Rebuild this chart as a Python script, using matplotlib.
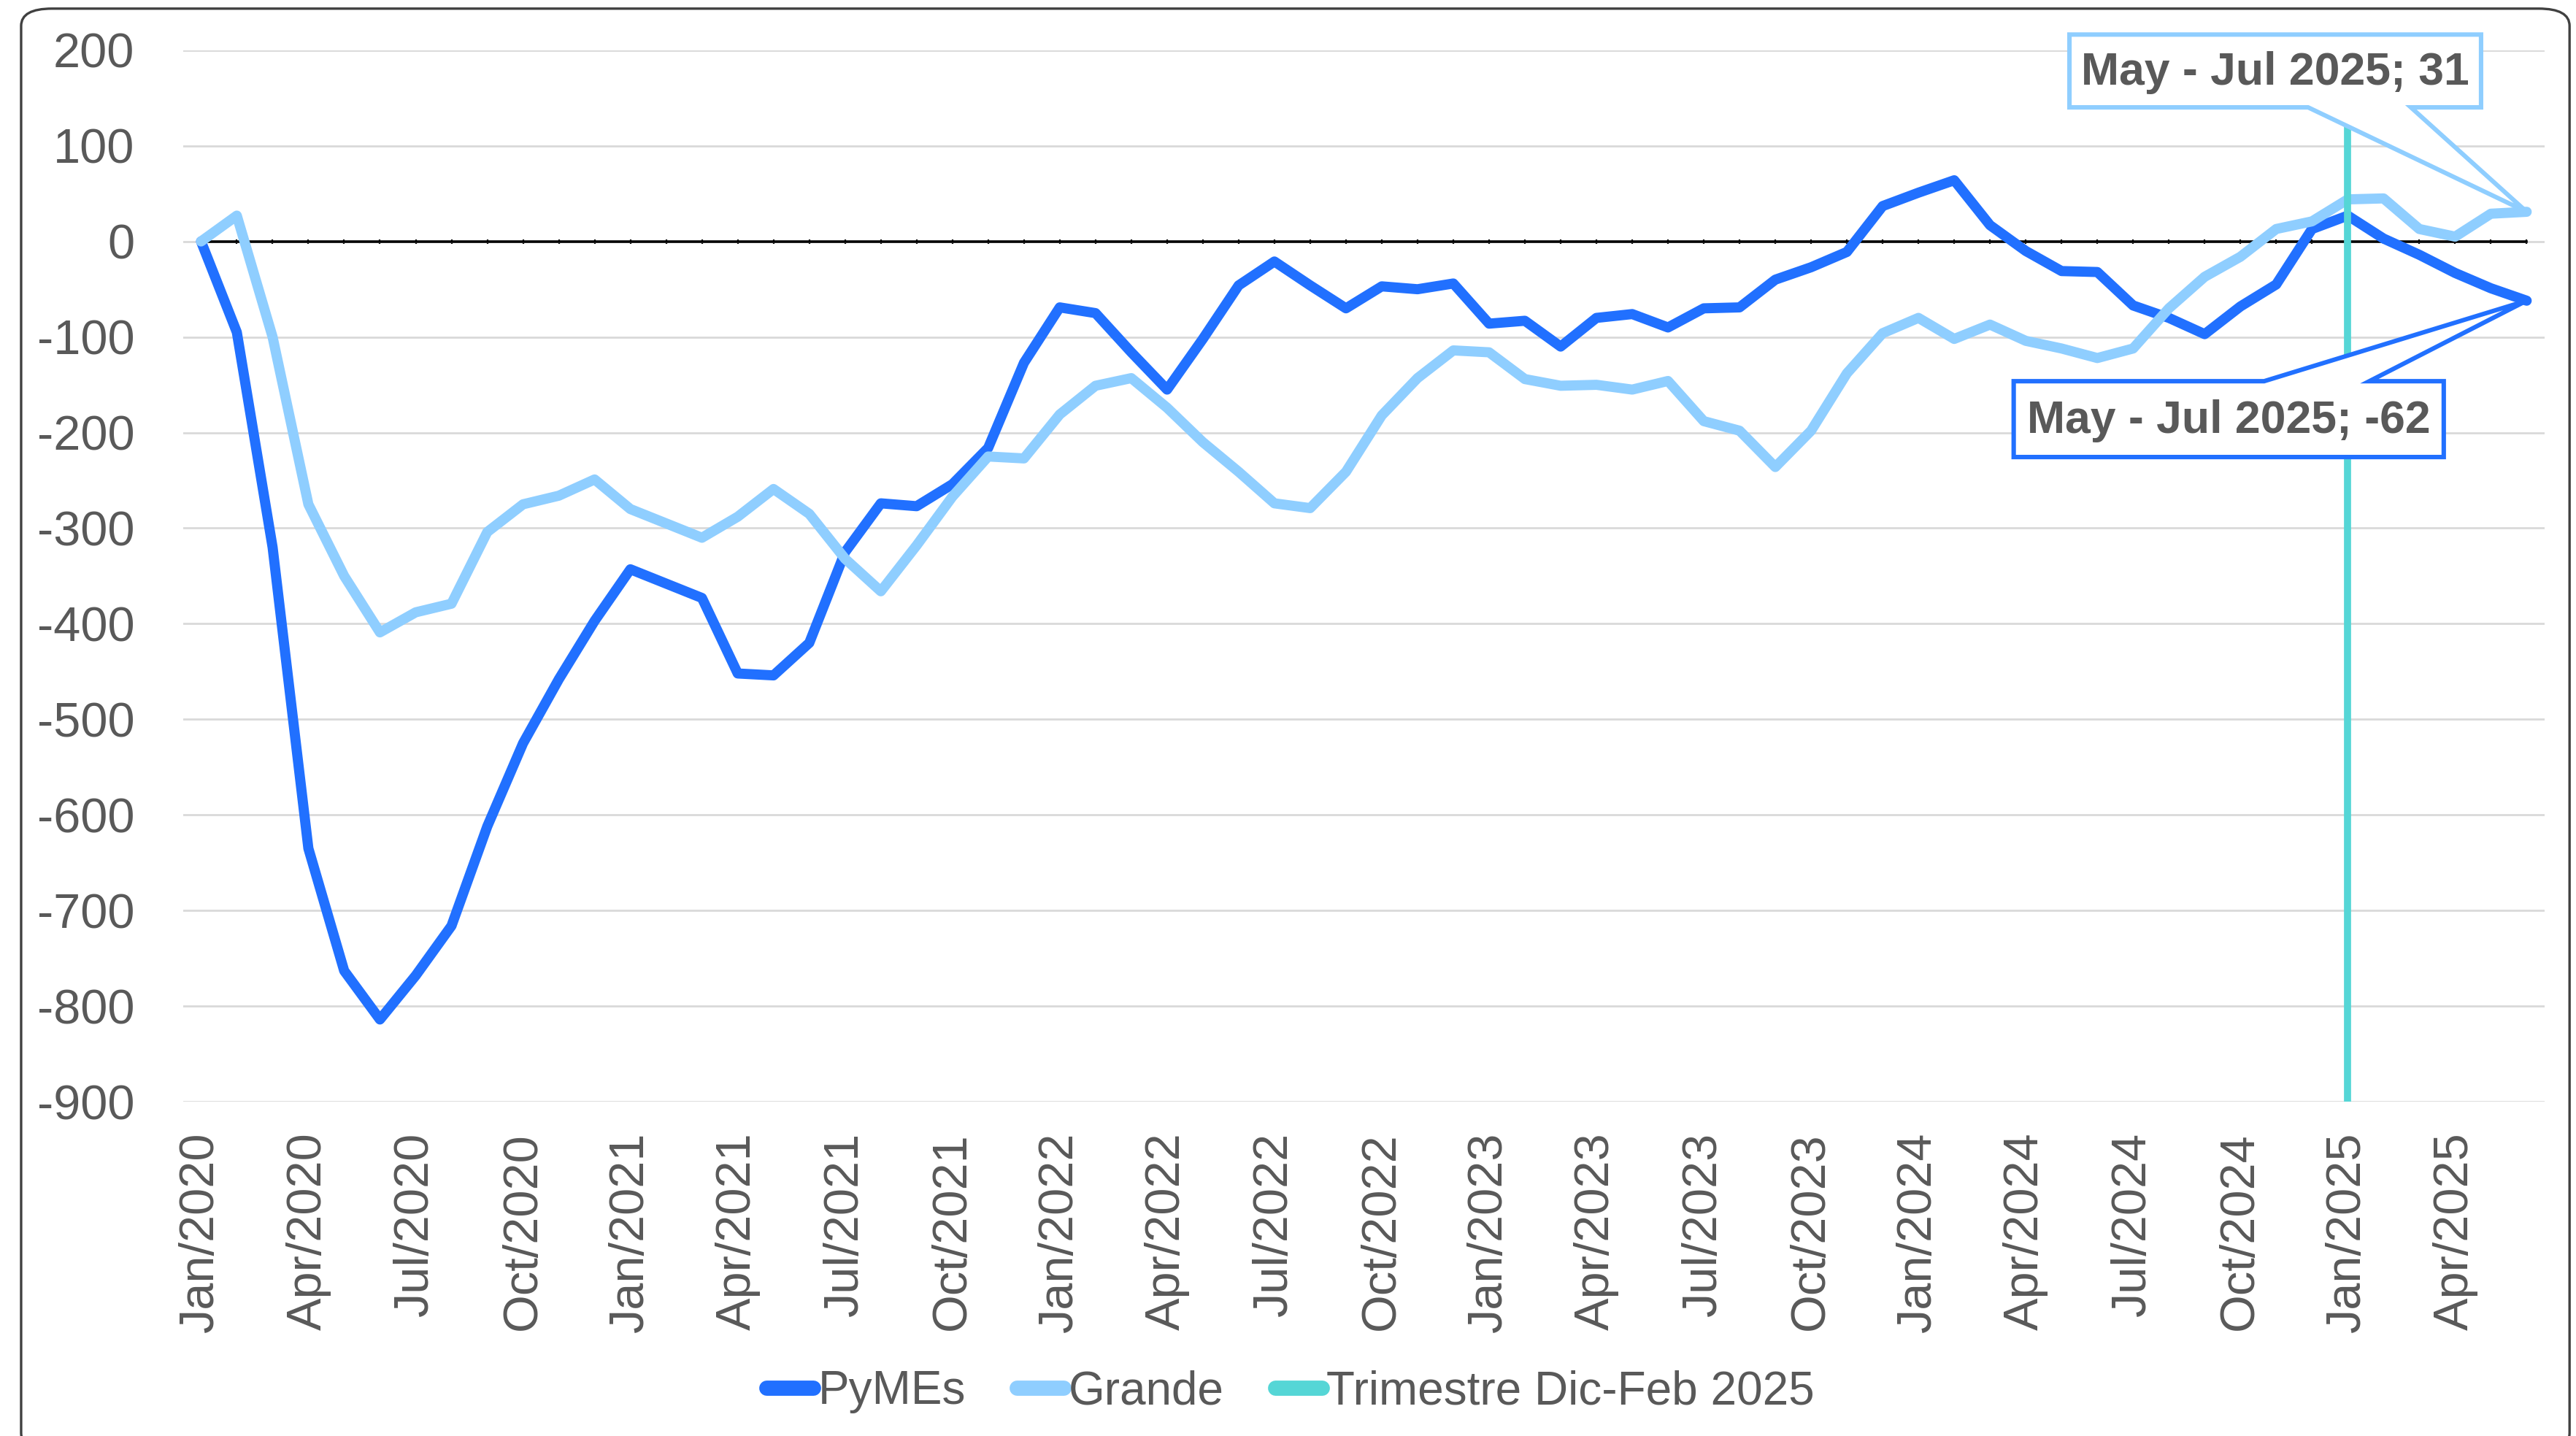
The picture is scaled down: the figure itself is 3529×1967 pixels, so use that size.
import numpy as np
import matplotlib.pyplot as plt
import matplotlib.transforms as mtransforms
from matplotlib.patches import FancyBboxPatch, Polygon
from matplotlib.ticker import MultipleLocator

# monthly values, Jan 2020 .. Jun 2025 (centre month of each rolling trimester)
pymes = [0, -95, -320, -635, -763, -814, -768, -716, -612, -525, -458, -397,
         -343, -358, -373, -452, -454, -420, -325, -274, -277, -254, -216, -127,
         -69, -75, -116, -155, -102, -46, -21, -46, -70, -47, -50, -44,
         -86, -83, -110, -80, -76, -90, -70, -69, -40, -27, -11, 37,
         51, 64, 17, -10, -31, -32, -67, -80, -97, -68, -45, 13,
         27, 3, -14, -33, -49, -62]
grande = [0, 27, -100, -275, -350, -409, -388, -379, -304, -275, -266, -249,
          -280, -295, -310, -288, -259, -285, -332, -366, -318, -267, -225, -227,
          -181, -151, -143, -174, -210, -241, -274, -279, -241, -182, -143, -114,
          -116, -144, -151, -150, -155, -146, -188, -198, -236, -198, -138, -96,
          -80, -102, -87, -104, -112, -122, -112, -70, -37, -16, 13, 21,
          44, 45, 13, 5, 29, 31]
tick_labels = ['Jan/2020', 'Apr/2020', 'Jul/2020', 'Oct/2020',
               'Jan/2021', 'Apr/2021', 'Jul/2021', 'Oct/2021',
               'Jan/2022', 'Apr/2022', 'Jul/2022', 'Oct/2022',
               'Jan/2023', 'Apr/2023', 'Jul/2023', 'Oct/2023',
               'Jan/2024', 'Apr/2024', 'Jul/2024', 'Oct/2024',
               'Jan/2025', 'Apr/2025']
marker_month = 60          # Trimestre Dic-Feb 2025
last_label = 'May - Jul 2025'

dark = '#2170FF'
light = '#8FCEFF'
teal = '#55D6D6'
grey = '#595959'

plt.rcParams['font.family'] = ['Liberation Sans', 'DejaVu Sans']
plt.rcParams['axes.unicode_minus'] = False

fig = plt.figure(figsize=(17.645, 9.835), dpi=200)
ax = fig.add_axes([0.0711, 0.2328, 0.9167, 0.7322])
x = np.arange(len(pymes))

l1, = ax.plot(x, pymes, color=dark, lw=5, solid_joinstyle='round',
              solid_capstyle='round', label='PyMEs', zorder=3)
l2, = ax.plot(x, grande, color=light, lw=5, solid_joinstyle='round',
              solid_capstyle='round', label='Grande', zorder=3)
l3 = ax.axvline(marker_month, color=teal, lw=3.5, label='Trimestre Dic-Feb 2025', zorder=4)

ax.set_xlim(-0.5, len(x) - 0.5)
ax.set_ylim(-900, 200)
ax.set_yticks(range(-900, 201, 100))
ax.grid(axis='y', color='#D9D9D9', lw=1.0)
ax.set_axisbelow(True)

# category axis crossing at zero, labels kept at the bottom
for s in ['left', 'right', 'bottom']:
    ax.spines[s].set_visible(False)
ax.spines['top'].set_position(('data', 0))
ax.spines['top'].set_bounds(0, len(x) - 1)
ax.spines['top'].set_linewidth(1.3)
ax.spines['top'].set_zorder(2.5)
ax.set_xticks(x[::3])
ax.set_xticklabels(tick_labels, rotation=90)
ax.xaxis.set_minor_locator(MultipleLocator(1))
ax.tick_params(axis='x', which='both', top=True, bottom=False, labeltop=False,
               labelbottom=True, direction='inout', length=2.5, width=0.8, color='black')
ax.tick_params(axis='x', which='major', pad=14, labelsize=24, labelcolor=grey)
ax.tick_params(axis='y', length=0, pad=24, labelsize=24, labelcolor=grey)

# callout data labels on the last point (outline offsets in points from the point)
pt = mtransforms.Affine2D().scale(1 / 72) + fig.dpi_scale_trans
callouts = [
    (grande, light, [(-225.5, 51.5), (-107.8, 51.5), (0, 0), (-57.1, 51.5),
                     (-22.5, 51.5), (-22.5, 87.4), (-225.5, 87.4)]),
    (pymes, dark, [(-253.0, -39.7), (-253.0, -77.1), (-40.9, -77.1), (-40.9, -39.7),
                   (-77.6, -39.7), (0, 0), (-129.5, -39.7)]),
]
for vals, col, verts in callouts:
    tr = pt + mtransforms.ScaledTranslation(x[-1], vals[-1], ax.transData)
    ax.add_patch(Polygon(verts, closed=True, transform=tr, fc='white', ec=col,
                         lw=2.2, joinstyle='miter', zorder=6, clip_on=False))
    box = [v for v in verts if v != (0, 0)]
    xs = [v[0] for v in box]
    ys = [v[1] for v in box]
    ax.text((min(xs) + max(xs)) / 2, (min(ys) + max(ys)) / 2 - 1,
            f'{last_label}; {vals[-1]}', transform=tr, ha='center', va='center',
            fontsize=22.5, fontweight='bold', color=grey, zorder=7, clip_on=False)

leg = fig.legend(handles=[l1, l2, l3], loc='center', bbox_to_anchor=(0.501, 0.031), ncol=3,
                 frameon=False, fontsize=23, labelcolor=grey, handlelength=1.0,
                 handletextpad=0.1, columnspacing=1.1)
for h in leg.get_lines():
    h.set_linewidth(7.5)
    h.set_solid_capstyle('round')

# chart area border
fig.patches.append(FancyBboxPatch((0.0082, -0.01), 0.9893, 1.004,
                                  boxstyle='round,pad=0,rounding_size=0.012',
                                  transform=fig.transFigure, fc='none',
                                  ec='#404040', lw=1.2))

fig.savefig('out.png', dpi=200)
